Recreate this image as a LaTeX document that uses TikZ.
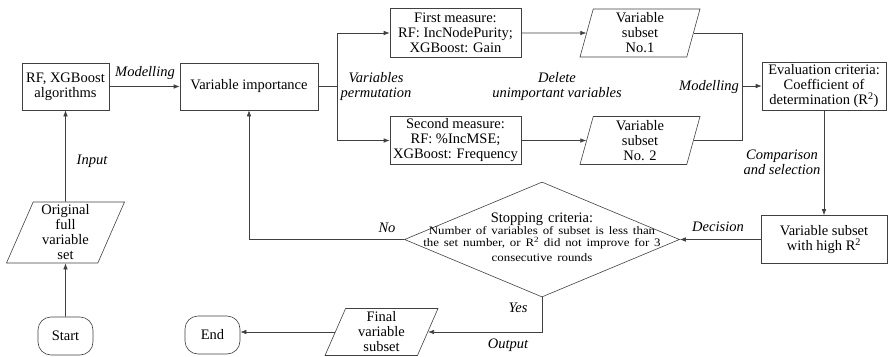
\documentclass[tikz,border=0pt]{standalone}
\usepackage{fontspec}
\setmainfont{Liberation Serif}
\newfontfamily\widefont[FakeStretch=1.13]{Liberation Serif}
\usepackage{tikz}
\usetikzlibrary{arrows.meta,shapes.geometric}
\definecolor{linecol}{HTML}{404040}
\tikzset{%
    >={Latex[length=6pt,width=4.5pt]},
    every node/.style={font=\fontsize{14.5}{15}\selectfont},
    flow/.style={draw=linecol, line width=0.6pt},
    box/.style={draw=linecol, line width=0.6pt, rectangle, align=center, inner sep=1pt},
    iobox/.style={draw=linecol, line width=0.6pt, trapezium, trapezium stretches body, align=center, inner sep=1pt},
    term/.style={draw=linecol, line width=0.6pt, rectangle, rounded corners=13pt, minimum width=55pt, minimum height=38pt},
    decision/.style={draw=linecol, line width=0.6pt, diamond, minimum width=275pt, minimum height=115pt, inner sep=0pt},
    lbl/.style={font=\fontsize{14.5}{15}\selectfont\itshape, align=center, inner sep=1pt}
}

\begin{document}
\begin{tikzpicture}[x=1pt,y=-1pt]
        \useasboundingbox (0,0) rectangle (888,356);

        \node[box, minimum width=87pt, minimum height=47pt] (rf) at (65.5,86.5) {RF, XGBoost\\algorithms};
        \node[box, minimum width=138pt, minimum height=47pt] (vi) at (249,86.5) {Variable importance};
        \node[box, minimum width=131pt, minimum height=49pt] (m1) at (455.5,33) {First measure:\\RF: IncNodePurity;\\XGBoost: Gain};
        \node[box, minimum width=131pt, minimum height=48pt] (m2) at (455.5,140.5) {Second measure:\\RF: \%IncMSE;\\XGBoost: Frequency};
        \node[iobox, trapezium left angle=72.6, trapezium right angle=107.4, minimum width=120pt, minimum height=48pt] (s1) at (640,33) {Variable\\subset\\No.1};
        \node[iobox, trapezium left angle=72.6, trapezium right angle=107.4, minimum width=120pt, minimum height=48pt] (s2) at (640,140.5) {Variable\\subset\\No. 2};
        \node[box, minimum width=124pt, minimum height=48pt] (ev) at (824,86) {Evaluation criteria:\\Coefficient of\\determination (R\textsuperscript{2})};
        \node[box, minimum width=126pt, minimum height=48pt] (hr) at (824,239.5) {Variable subset\\with high R\textsuperscript{2}};
        \node[decision] (stop) at (542,239.5) {};
        \node[text width=240pt, align=center, inner sep=0pt] (stoptext) at (542,237) {Stopping criteria:\par
            \widefont\fontsize{11.4}{11.8}\selectfont Number of variables of subset is less than\\the set number, or R\textsuperscript{2} did not improve for 3\\consecutive rounds};
        \node[iobox, trapezium left angle=65, trapezium right angle=115, minimum width=118pt, minimum height=61pt] (orig) at (65.5,232.5) {Original\\full\\variable\\set};
        \node[iobox, trapezium left angle=64, trapezium right angle=116, minimum width=113pt, minimum height=47pt] (final) at (381.5,332) {Final\\variable\\subset};
        \node[term] (start) at (65.5,336) {Start};
        \node[term] (finish) at (212.5,335) {End};

        \node[lbl] (lmodel) at (145,73) {Modelling};
        \node[lbl] (linput) at (92,161) {Input};
        \node[lbl] (lperm) at (376,86.5) {Variables\\permutation};
        \node[lbl] (ldelete) at (557,87) {Delete\\unimportant variables};
        \node[lbl, anchor=east] (lmodel2) at (740,87) {Modelling};
        \node[lbl] (lcompare) at (782,162) {Comparison\\and selection};
        \node[lbl] (ldecision) at (718,227) {Decision};
        \node[lbl] (lno) at (387,228) {No};
        \node[lbl] (lyes) at (518,308) {Yes};
        \node[lbl] (loutput) at (508,345) {Output};

        \coordinate (split) at (337,86.5);
        \coordinate (merge) at ([xshift=-19pt]ev.west);

        \draw[flow,->] (start) -- (orig);
        \draw[flow,->] (orig) -- (rf);
        \draw[flow,->] (rf) -- (vi);
        \draw[flow] (vi) -- (split);
        \draw[flow,->] (split) |- (m1);
        \draw[flow,->] (split) |- (m2);
        \draw[flow,->] (m1) -- (s1);
        \draw[flow,->] (m2) -- (s2);
        \draw[flow] (s1.east) -| (merge) |- (s2.east);
        \draw[flow,->] (merge) -- (ev);
        \draw[flow,->] (ev) -- (hr);
        \draw[flow,->] (hr) -- (stop);
        \draw[flow,->] (stop.west) -| (vi.south);
        \draw[flow,->] (stop.south) |- (final.east);
        \draw[flow,->] (final.west) -- (final.west -| finish.east);
    \end{tikzpicture}
\end{document}
